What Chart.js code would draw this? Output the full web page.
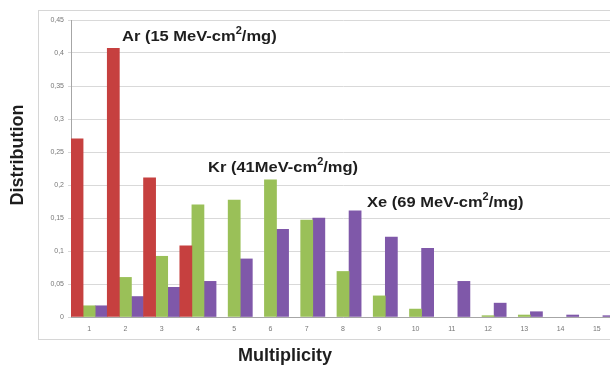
<!DOCTYPE html>
<html>
<head>
<meta charset="utf-8">
<script src="https://cdn.jsdelivr.net/npm/chart.js@4"></script>
<style>
  html, body { margin: 0; padding: 0; background: #fff; overflow: hidden; }
  #wrap { position: relative; width: 616px; height: 367px; }
</style>
</head>
<body>
<div id="wrap"><canvas id="chart"></canvas></div>
<script>
// Multiplicity classes
const categories = ['1','2','3','4','5','6','7','8','9','10','11','12','13','14','15'];

// Distribution per ion
const arValues = [0.270, 0.407, 0.211, 0.108, 0, 0, 0, 0, 0, 0, 0, 0, 0, 0, 0];
const krValues = [0.017, 0.060, 0.092, 0.170, 0.177, 0.208, 0.147, 0.069, 0.032, 0.012, 0, 0.002, 0.003, 0, 0];
const xeValues = [0.017, 0.031, 0.045, 0.054, 0.088, 0.133, 0.150, 0.161, 0.121, 0.104, 0.054, 0.021, 0.008, 0.003, 0.002];

// Y tick labels (decimal comma)
const yTickLabels = ['0', '0,05', '0,1', '0,15', '0,2', '0,25', '0,3', '0,35', '0,4', '0,45'];

const seriesLabels = ['Ar', 'Kr', 'Xe'];
const seriesColors = ['#c6403f', '#9ac058', '#7f58a9'];

// Ion labels drawn inside the plot: [text before superscript, superscript, text after, x, baseline]
const ionLabels = [
  ['Ar (15 MeV-cm', '2', '/mg)', 122, 41],
  ['Kr (41MeV-cm', '2', '/mg)', 208, 172],
  ['Xe (69 MeV-cm', '2', '/mg)', 367, 207]
];

const FONT = '"Liberation Sans", Arial, sans-serif';

const framePlugin = {
  id: 'frame',
  beforeDraw(chart) {
    const ctx = chart.ctx;
    ctx.save();
    ctx.fillStyle = '#ffffff';
    ctx.fillRect(0, 0, chart.width, chart.height);
    ctx.strokeStyle = '#d6d6d6';
    ctx.lineWidth = 1;
    ctx.strokeRect(38.5, 10.5, chart.width, 329);
    ctx.restore();
  }
};

const textPlugin = {
  id: 'texts',
  afterDraw(chart) {
    const ctx = chart.ctx;
    ctx.save();
    ctx.fillStyle = '#1e1e1e';
    ctx.textBaseline = 'alphabetic';
    ctx.textAlign = 'left';
    ionLabels.forEach(([a, sup, b, x, y]) => {
      ctx.save();
      ctx.translate(x, y);
      ctx.scale(1.1, 1);
      ctx.font = 'bold 15px ' + FONT;
      ctx.fillText(a, 0, 0);
      let w = ctx.measureText(a).width;
      ctx.font = 'bold 10px ' + FONT;
      ctx.fillText(sup, w, -7);
      w += ctx.measureText(sup).width;
      ctx.font = 'bold 15px ' + FONT;
      ctx.fillText(b, w, 0);
      ctx.restore();
    });

    // axis titles
    ctx.font = 'bold 18px ' + FONT;
    ctx.textAlign = 'center';
    ctx.textBaseline = 'middle';
    ctx.fillText('Multiplicity', 285, 356);
    ctx.translate(18, 155);
    ctx.rotate(-Math.PI / 2);
    ctx.fillText('Distribution', 0, 0);
    ctx.restore();
  }
};

new Chart(document.getElementById('chart'), {
  type: 'bar',
  data: {
    labels: categories,
    datasets: [arValues, krValues, xeValues].map((vals, i) => ({
      label: seriesLabels[i],
      // empty classes are left without a bar
      data: vals.map(v => (v === 0 ? null : v)),
      backgroundColor: seriesColors[i],
      borderWidth: 0,
      categoryPercentage: 1,
      barPercentage: 1
    }))
  },
  options: {
    responsive: true,
    maintainAspectRatio: false,
    animation: false,
    layout: { padding: { left: 0, top: 20, right: 1, bottom: 0 } },
    plugins: {
      legend: { display: false },
      tooltip: { enabled: false }
    },
    scales: {
      x: {
        grid: { display: false, drawTicks: false },
        border: { display: true, color: '#a6a6a6', width: 1 },
        ticks: {
          color: '#777',
          font: { family: FONT, size: 7 },
          padding: 8,
          maxRotation: 0,
          autoSkip: false
        },
        afterFit(scale) { scale.height = 50; }
      },
      y: {
        min: 0,
        max: 0.45,
        grid: { color: '#d9d9d9', lineWidth: 1, drawTicks: true, tickLength: 3 },
        border: { display: true, color: '#a6a6a6', width: 1 },
        ticks: {
          stepSize: 0.05,
          color: '#777',
          font: { family: FONT, size: 7 },
          padding: 4,
          callback: (v, i) => yTickLabels[i]
        },
        afterFit(scale) { scale.width = 71; }
      }
    }
  },
  plugins: [framePlugin, textPlugin]
});
</script>
</body>
</html>
